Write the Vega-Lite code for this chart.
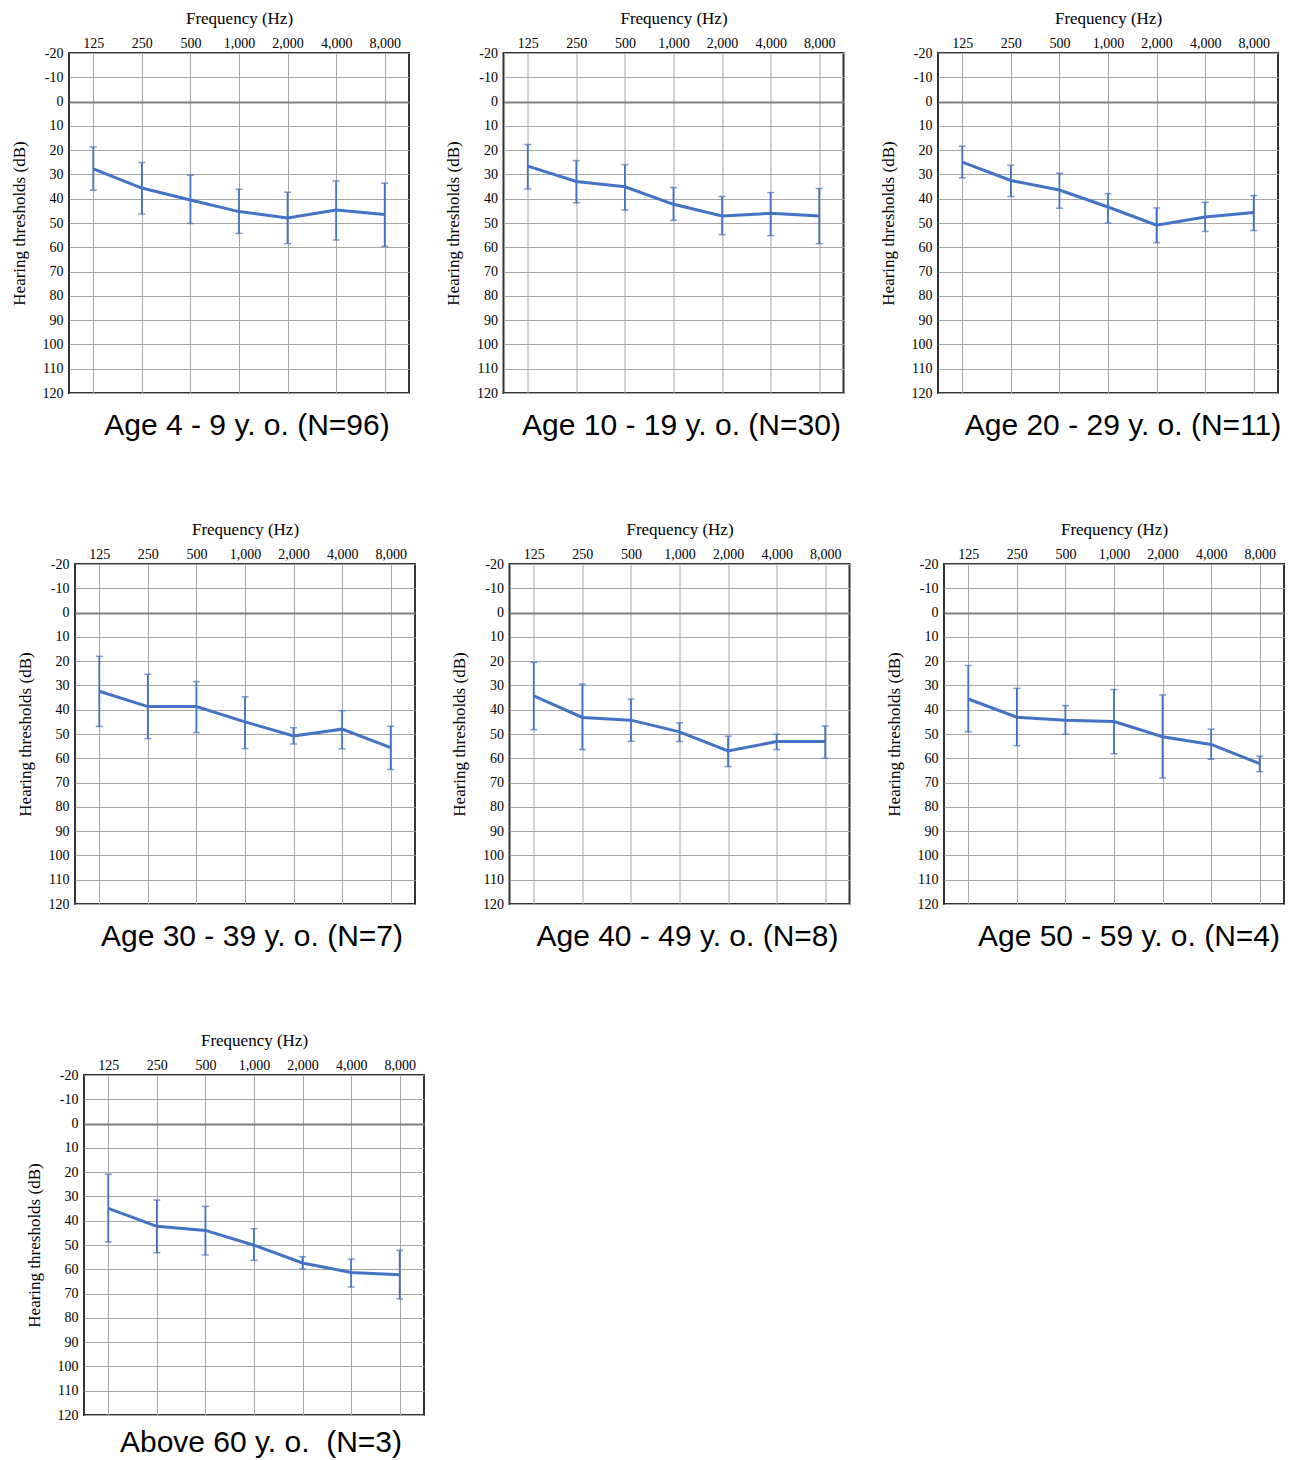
{
  "$schema": "https://vega.github.io/schema/vega-lite/v6.json",
  "background": "white",
  "padding": {"left": 8, "top": 8, "right": 0, "bottom": 0},
  "datasets": {
    "d": [
      {"g": 1, "f": "125", "m": 27.7, "lo": 18.7, "hi": 36.5},
      {"g": 1, "f": "250", "m": 35.6, "lo": 25.1, "hi": 46.3},
      {"g": 1, "f": "500", "m": 40.5, "lo": 30.3, "hi": 50.2},
      {"g": 1, "f": "1,000", "m": 45.3, "lo": 36.1, "hi": 54.3},
      {"g": 1, "f": "2,000", "m": 47.9, "lo": 37.3, "hi": 58.5},
      {"g": 1, "f": "4,000", "m": 44.7, "lo": 32.7, "hi": 57.0},
      {"g": 1, "f": "8,000", "m": 46.5, "lo": 33.6, "hi": 59.6},
      {"g": 2, "f": "125", "m": 26.6, "lo": 17.7, "hi": 36.0},
      {"g": 2, "f": "250", "m": 32.9, "lo": 24.3, "hi": 41.7},
      {"g": 2, "f": "500", "m": 35.1, "lo": 26.0, "hi": 44.7},
      {"g": 2, "f": "1,000", "m": 42.3, "lo": 35.4, "hi": 48.9},
      {"g": 2, "f": "2,000", "m": 47.1, "lo": 39.1, "hi": 54.8},
      {"g": 2, "f": "4,000", "m": 46.0, "lo": 37.5, "hi": 55.2},
      {"g": 2, "f": "8,000", "m": 47.1, "lo": 35.8, "hi": 58.5},
      {"g": 3, "f": "125", "m": 24.9, "lo": 18.4, "hi": 31.4},
      {"g": 3, "f": "250", "m": 32.5, "lo": 26.2, "hi": 39.1},
      {"g": 3, "f": "500", "m": 36.4, "lo": 29.5, "hi": 43.9},
      {"g": 3, "f": "1,000", "m": 43.4, "lo": 37.9, "hi": 50.0},
      {"g": 3, "f": "2,000", "m": 50.9, "lo": 43.8, "hi": 58.1},
      {"g": 3, "f": "4,000", "m": 47.5, "lo": 41.5, "hi": 53.5},
      {"g": 3, "f": "8,000", "m": 45.7, "lo": 38.7, "hi": 53.1},
      {"g": 4, "f": "125", "m": 32.4, "lo": 18.0, "hi": 46.9},
      {"g": 4, "f": "250", "m": 38.7, "lo": 25.4, "hi": 51.9},
      {"g": 4, "f": "500", "m": 38.7, "lo": 28.4, "hi": 49.4},
      {"g": 4, "f": "1,000", "m": 45.0, "lo": 34.7, "hi": 56.0},
      {"g": 4, "f": "2,000", "m": 50.8, "lo": 47.4, "hi": 54.1},
      {"g": 4, "f": "4,000", "m": 48.0, "lo": 40.4, "hi": 56.1},
      {"g": 4, "f": "8,000", "m": 55.6, "lo": 46.8, "hi": 64.6},
      {"g": 5, "f": "125", "m": 34.3, "lo": 20.5, "hi": 48.2},
      {"g": 5, "f": "250", "m": 43.2, "lo": 29.5, "hi": 56.4},
      {"g": 5, "f": "500", "m": 44.3, "lo": 35.6, "hi": 53.0},
      {"g": 5, "f": "1,000", "m": 49.1, "lo": 45.4, "hi": 53.1},
      {"g": 5, "f": "2,000", "m": 57.0, "lo": 50.9, "hi": 63.4},
      {"g": 5, "f": "4,000", "m": 53.1, "lo": 50.1, "hi": 56.4},
      {"g": 5, "f": "8,000", "m": 53.1, "lo": 46.7, "hi": 60.0},
      {"g": 6, "f": "125", "m": 35.6, "lo": 21.8, "hi": 49.1},
      {"g": 6, "f": "250", "m": 43.1, "lo": 31.2, "hi": 54.8},
      {"g": 6, "f": "500", "m": 44.3, "lo": 38.3, "hi": 50.1},
      {"g": 6, "f": "1,000", "m": 44.9, "lo": 31.7, "hi": 58.1},
      {"g": 6, "f": "2,000", "m": 51.1, "lo": 33.9, "hi": 68.1},
      {"g": 6, "f": "4,000", "m": 54.3, "lo": 48.0, "hi": 60.4},
      {"g": 6, "f": "8,000", "m": 62.2, "lo": 59.1, "hi": 65.5},
      {"g": 7, "f": "125", "m": 34.9, "lo": 20.9, "hi": 48.8},
      {"g": 7, "f": "250", "m": 42.3, "lo": 31.5, "hi": 53.2},
      {"g": 7, "f": "500", "m": 44.0, "lo": 34.1, "hi": 54.1},
      {"g": 7, "f": "1,000", "m": 50.1, "lo": 43.3, "hi": 56.3},
      {"g": 7, "f": "2,000", "m": 57.4, "lo": 54.8, "hi": 59.9},
      {"g": 7, "f": "4,000", "m": 61.3, "lo": 55.8, "hi": 67.3},
      {"g": 7, "f": "8,000", "m": 62.3, "lo": 52.2, "hi": 72.2}
    ]
  },
  "vconcat": [
    {
      "hconcat": [
        {"width": 1, "height": 1, "data": {"values": []}, "mark": {"type": "point", "opacity": 0}, "encoding": {}, "view": {"stroke": null}},
        {
          "hconcat": [
            {
              "width": 340, "height": 340,
              "data": {"name": "d"},
              "transform": [{"filter": "datum.g == 1"}],
              "title": {"text": "Age 4 - 9 y. o. (N=96)", "dx": 8},
              "encoding": {"x": {"field": "f", "type": "ordinal", "sort": ["125","250","500","1,000","2,000","4,000","8,000"], "scale": {"type": "point", "padding": 0.5}, "axis": {"orient": "top", "title": "Frequency (Hz)", "labelAngle": 0, "labelPadding": 3, "titlePadding": 9}}},
              "layer": [
                {"mark": {"type": "rule", "color": "#4472C4", "strokeWidth": 1.8}, "encoding": {"y": {"field": "lo", "type": "quantitative", "scale": {"domain": [-20, 120], "reverse": true, "nice": false, "zero": false}, "axis": {"title": "Hearing thresholds (dB)", "values": [-20,-10,0,10,20,30,40,50,60,70,80,90,100,110,120], "tickCount": 30, "labelOverlap": false, "labelExpr": "'' + datum.value", "labelPadding": 6, "titlePadding": 14, "gridColor": {"condition": {"test": "datum.value === 0", "value": "#7f7f7f"}, "value": "#a6a6a6"}, "gridWidth": {"condition": {"test": "datum.value === 0", "value": 2}, "value": 1}}}, "y2": {"field": "hi"}}},
                {"mark": {"type": "tick", "color": "#4472C4", "size": 7, "thickness": 1.5, "orient": "horizontal"}, "encoding": {"y": {"field": "lo", "type": "quantitative", "scale": {"domain": [-20, 120], "reverse": true, "nice": false, "zero": false}, "axis": {"title": "Hearing thresholds (dB)", "values": [-20,-10,0,10,20,30,40,50,60,70,80,90,100,110,120], "tickCount": 30, "labelOverlap": false, "labelExpr": "'' + datum.value", "labelPadding": 6, "titlePadding": 14, "gridColor": {"condition": {"test": "datum.value === 0", "value": "#7f7f7f"}, "value": "#a6a6a6"}, "gridWidth": {"condition": {"test": "datum.value === 0", "value": 2}, "value": 1}}}}},
                {"mark": {"type": "tick", "color": "#4472C4", "size": 7, "thickness": 1.5, "orient": "horizontal"}, "encoding": {"y": {"field": "hi", "type": "quantitative", "scale": {"domain": [-20, 120], "reverse": true, "nice": false, "zero": false}, "axis": {"title": "Hearing thresholds (dB)", "values": [-20,-10,0,10,20,30,40,50,60,70,80,90,100,110,120], "tickCount": 30, "labelOverlap": false, "labelExpr": "'' + datum.value", "labelPadding": 6, "titlePadding": 14, "gridColor": {"condition": {"test": "datum.value === 0", "value": "#7f7f7f"}, "value": "#a6a6a6"}, "gridWidth": {"condition": {"test": "datum.value === 0", "value": 2}, "value": 1}}}}},
                {"mark": {"type": "line", "color": "#4472C4", "strokeWidth": 3}, "encoding": {"y": {"field": "m", "type": "quantitative", "scale": {"domain": [-20, 120], "reverse": true, "nice": false, "zero": false}, "axis": {"title": "Hearing thresholds (dB)", "values": [-20,-10,0,10,20,30,40,50,60,70,80,90,100,110,120], "tickCount": 30, "labelOverlap": false, "labelExpr": "'' + datum.value", "labelPadding": 6, "titlePadding": 14, "gridColor": {"condition": {"test": "datum.value === 0", "value": "#7f7f7f"}, "value": "#a6a6a6"}, "gridWidth": {"condition": {"test": "datum.value === 0", "value": 2}, "value": 1}}}}}
              ]
            },
            {
              "width": 340, "height": 340,
              "data": {"name": "d"},
              "transform": [{"filter": "datum.g == 2"}],
              "title": {"text": "Age 10 - 19 y. o. (N=30)", "dx": 8},
              "encoding": {"x": {"field": "f", "type": "ordinal", "sort": ["125","250","500","1,000","2,000","4,000","8,000"], "scale": {"type": "point", "padding": 0.5}, "axis": {"orient": "top", "title": "Frequency (Hz)", "labelAngle": 0, "labelPadding": 3, "titlePadding": 9}}},
              "layer": [
                {"mark": {"type": "rule", "color": "#4472C4", "strokeWidth": 1.8}, "encoding": {"y": {"field": "lo", "type": "quantitative", "scale": {"domain": [-20, 120], "reverse": true, "nice": false, "zero": false}, "axis": {"title": "Hearing thresholds (dB)", "values": [-20,-10,0,10,20,30,40,50,60,70,80,90,100,110,120], "tickCount": 30, "labelOverlap": false, "labelExpr": "'' + datum.value", "labelPadding": 6, "titlePadding": 14, "gridColor": {"condition": {"test": "datum.value === 0", "value": "#7f7f7f"}, "value": "#a6a6a6"}, "gridWidth": {"condition": {"test": "datum.value === 0", "value": 2}, "value": 1}}}, "y2": {"field": "hi"}}},
                {"mark": {"type": "tick", "color": "#4472C4", "size": 7, "thickness": 1.5, "orient": "horizontal"}, "encoding": {"y": {"field": "lo", "type": "quantitative", "scale": {"domain": [-20, 120], "reverse": true, "nice": false, "zero": false}, "axis": {"title": "Hearing thresholds (dB)", "values": [-20,-10,0,10,20,30,40,50,60,70,80,90,100,110,120], "tickCount": 30, "labelOverlap": false, "labelExpr": "'' + datum.value", "labelPadding": 6, "titlePadding": 14, "gridColor": {"condition": {"test": "datum.value === 0", "value": "#7f7f7f"}, "value": "#a6a6a6"}, "gridWidth": {"condition": {"test": "datum.value === 0", "value": 2}, "value": 1}}}}},
                {"mark": {"type": "tick", "color": "#4472C4", "size": 7, "thickness": 1.5, "orient": "horizontal"}, "encoding": {"y": {"field": "hi", "type": "quantitative", "scale": {"domain": [-20, 120], "reverse": true, "nice": false, "zero": false}, "axis": {"title": "Hearing thresholds (dB)", "values": [-20,-10,0,10,20,30,40,50,60,70,80,90,100,110,120], "tickCount": 30, "labelOverlap": false, "labelExpr": "'' + datum.value", "labelPadding": 6, "titlePadding": 14, "gridColor": {"condition": {"test": "datum.value === 0", "value": "#7f7f7f"}, "value": "#a6a6a6"}, "gridWidth": {"condition": {"test": "datum.value === 0", "value": 2}, "value": 1}}}}},
                {"mark": {"type": "line", "color": "#4472C4", "strokeWidth": 3}, "encoding": {"y": {"field": "m", "type": "quantitative", "scale": {"domain": [-20, 120], "reverse": true, "nice": false, "zero": false}, "axis": {"title": "Hearing thresholds (dB)", "values": [-20,-10,0,10,20,30,40,50,60,70,80,90,100,110,120], "tickCount": 30, "labelOverlap": false, "labelExpr": "'' + datum.value", "labelPadding": 6, "titlePadding": 14, "gridColor": {"condition": {"test": "datum.value === 0", "value": "#7f7f7f"}, "value": "#a6a6a6"}, "gridWidth": {"condition": {"test": "datum.value === 0", "value": 2}, "value": 1}}}}}
              ]
            },
            {
              "width": 340, "height": 340,
              "data": {"name": "d"},
              "transform": [{"filter": "datum.g == 3"}],
              "title": {"text": "Age 20 - 29 y. o. (N=11)", "dx": 15},
              "encoding": {"x": {"field": "f", "type": "ordinal", "sort": ["125","250","500","1,000","2,000","4,000","8,000"], "scale": {"type": "point", "padding": 0.5}, "axis": {"orient": "top", "title": "Frequency (Hz)", "labelAngle": 0, "labelPadding": 3, "titlePadding": 9}}},
              "layer": [
                {"mark": {"type": "rule", "color": "#4472C4", "strokeWidth": 1.8}, "encoding": {"y": {"field": "lo", "type": "quantitative", "scale": {"domain": [-20, 120], "reverse": true, "nice": false, "zero": false}, "axis": {"title": "Hearing thresholds (dB)", "values": [-20,-10,0,10,20,30,40,50,60,70,80,90,100,110,120], "tickCount": 30, "labelOverlap": false, "labelExpr": "'' + datum.value", "labelPadding": 6, "titlePadding": 14, "gridColor": {"condition": {"test": "datum.value === 0", "value": "#7f7f7f"}, "value": "#a6a6a6"}, "gridWidth": {"condition": {"test": "datum.value === 0", "value": 2}, "value": 1}}}, "y2": {"field": "hi"}}},
                {"mark": {"type": "tick", "color": "#4472C4", "size": 7, "thickness": 1.5, "orient": "horizontal"}, "encoding": {"y": {"field": "lo", "type": "quantitative", "scale": {"domain": [-20, 120], "reverse": true, "nice": false, "zero": false}, "axis": {"title": "Hearing thresholds (dB)", "values": [-20,-10,0,10,20,30,40,50,60,70,80,90,100,110,120], "tickCount": 30, "labelOverlap": false, "labelExpr": "'' + datum.value", "labelPadding": 6, "titlePadding": 14, "gridColor": {"condition": {"test": "datum.value === 0", "value": "#7f7f7f"}, "value": "#a6a6a6"}, "gridWidth": {"condition": {"test": "datum.value === 0", "value": 2}, "value": 1}}}}},
                {"mark": {"type": "tick", "color": "#4472C4", "size": 7, "thickness": 1.5, "orient": "horizontal"}, "encoding": {"y": {"field": "hi", "type": "quantitative", "scale": {"domain": [-20, 120], "reverse": true, "nice": false, "zero": false}, "axis": {"title": "Hearing thresholds (dB)", "values": [-20,-10,0,10,20,30,40,50,60,70,80,90,100,110,120], "tickCount": 30, "labelOverlap": false, "labelExpr": "'' + datum.value", "labelPadding": 6, "titlePadding": 14, "gridColor": {"condition": {"test": "datum.value === 0", "value": "#7f7f7f"}, "value": "#a6a6a6"}, "gridWidth": {"condition": {"test": "datum.value === 0", "value": 2}, "value": 1}}}}},
                {"mark": {"type": "line", "color": "#4472C4", "strokeWidth": 3}, "encoding": {"y": {"field": "m", "type": "quantitative", "scale": {"domain": [-20, 120], "reverse": true, "nice": false, "zero": false}, "axis": {"title": "Hearing thresholds (dB)", "values": [-20,-10,0,10,20,30,40,50,60,70,80,90,100,110,120], "tickCount": 30, "labelOverlap": false, "labelExpr": "'' + datum.value", "labelPadding": 6, "titlePadding": 14, "gridColor": {"condition": {"test": "datum.value === 0", "value": "#7f7f7f"}, "value": "#a6a6a6"}, "gridWidth": {"condition": {"test": "datum.value === 0", "value": 2}, "value": 1}}}}}
              ]
            }
          ],
          "spacing": 33.5
        }
      ],
      "spacing": 0
    },
    {
      "hconcat": [
        {"width": 6.7, "height": 1, "data": {"values": []}, "mark": {"type": "point", "opacity": 0}, "encoding": {}, "view": {"stroke": null}},
        {
          "hconcat": [
            {
              "width": 340, "height": 340,
              "data": {"name": "d"},
              "transform": [{"filter": "datum.g == 4"}],
              "title": {"text": "Age 30 - 39 y. o. (N=7)", "dx": 7},
              "encoding": {"x": {"field": "f", "type": "ordinal", "sort": ["125","250","500","1,000","2,000","4,000","8,000"], "scale": {"type": "point", "padding": 0.5}, "axis": {"orient": "top", "title": "Frequency (Hz)", "labelAngle": 0, "labelPadding": 3, "titlePadding": 9}}},
              "layer": [
                {"mark": {"type": "rule", "color": "#4472C4", "strokeWidth": 1.8}, "encoding": {"y": {"field": "lo", "type": "quantitative", "scale": {"domain": [-20, 120], "reverse": true, "nice": false, "zero": false}, "axis": {"title": "Hearing thresholds (dB)", "values": [-20,-10,0,10,20,30,40,50,60,70,80,90,100,110,120], "tickCount": 30, "labelOverlap": false, "labelExpr": "'' + datum.value", "labelPadding": 6, "titlePadding": 14, "gridColor": {"condition": {"test": "datum.value === 0", "value": "#7f7f7f"}, "value": "#a6a6a6"}, "gridWidth": {"condition": {"test": "datum.value === 0", "value": 2}, "value": 1}}}, "y2": {"field": "hi"}}},
                {"mark": {"type": "tick", "color": "#4472C4", "size": 7, "thickness": 1.5, "orient": "horizontal"}, "encoding": {"y": {"field": "lo", "type": "quantitative", "scale": {"domain": [-20, 120], "reverse": true, "nice": false, "zero": false}, "axis": {"title": "Hearing thresholds (dB)", "values": [-20,-10,0,10,20,30,40,50,60,70,80,90,100,110,120], "tickCount": 30, "labelOverlap": false, "labelExpr": "'' + datum.value", "labelPadding": 6, "titlePadding": 14, "gridColor": {"condition": {"test": "datum.value === 0", "value": "#7f7f7f"}, "value": "#a6a6a6"}, "gridWidth": {"condition": {"test": "datum.value === 0", "value": 2}, "value": 1}}}}},
                {"mark": {"type": "tick", "color": "#4472C4", "size": 7, "thickness": 1.5, "orient": "horizontal"}, "encoding": {"y": {"field": "hi", "type": "quantitative", "scale": {"domain": [-20, 120], "reverse": true, "nice": false, "zero": false}, "axis": {"title": "Hearing thresholds (dB)", "values": [-20,-10,0,10,20,30,40,50,60,70,80,90,100,110,120], "tickCount": 30, "labelOverlap": false, "labelExpr": "'' + datum.value", "labelPadding": 6, "titlePadding": 14, "gridColor": {"condition": {"test": "datum.value === 0", "value": "#7f7f7f"}, "value": "#a6a6a6"}, "gridWidth": {"condition": {"test": "datum.value === 0", "value": 2}, "value": 1}}}}},
                {"mark": {"type": "line", "color": "#4472C4", "strokeWidth": 3}, "encoding": {"y": {"field": "m", "type": "quantitative", "scale": {"domain": [-20, 120], "reverse": true, "nice": false, "zero": false}, "axis": {"title": "Hearing thresholds (dB)", "values": [-20,-10,0,10,20,30,40,50,60,70,80,90,100,110,120], "tickCount": 30, "labelOverlap": false, "labelExpr": "'' + datum.value", "labelPadding": 6, "titlePadding": 14, "gridColor": {"condition": {"test": "datum.value === 0", "value": "#7f7f7f"}, "value": "#a6a6a6"}, "gridWidth": {"condition": {"test": "datum.value === 0", "value": 2}, "value": 1}}}}}
              ]
            },
            {
              "width": 340, "height": 340,
              "data": {"name": "d"},
              "transform": [{"filter": "datum.g == 5"}],
              "title": {"text": "Age 40 - 49 y. o. (N=8)", "dx": 8},
              "encoding": {"x": {"field": "f", "type": "ordinal", "sort": ["125","250","500","1,000","2,000","4,000","8,000"], "scale": {"type": "point", "padding": 0.5}, "axis": {"orient": "top", "title": "Frequency (Hz)", "labelAngle": 0, "labelPadding": 3, "titlePadding": 9}}},
              "layer": [
                {"mark": {"type": "rule", "color": "#4472C4", "strokeWidth": 1.8}, "encoding": {"y": {"field": "lo", "type": "quantitative", "scale": {"domain": [-20, 120], "reverse": true, "nice": false, "zero": false}, "axis": {"title": "Hearing thresholds (dB)", "values": [-20,-10,0,10,20,30,40,50,60,70,80,90,100,110,120], "tickCount": 30, "labelOverlap": false, "labelExpr": "'' + datum.value", "labelPadding": 6, "titlePadding": 14, "gridColor": {"condition": {"test": "datum.value === 0", "value": "#7f7f7f"}, "value": "#a6a6a6"}, "gridWidth": {"condition": {"test": "datum.value === 0", "value": 2}, "value": 1}}}, "y2": {"field": "hi"}}},
                {"mark": {"type": "tick", "color": "#4472C4", "size": 7, "thickness": 1.5, "orient": "horizontal"}, "encoding": {"y": {"field": "lo", "type": "quantitative", "scale": {"domain": [-20, 120], "reverse": true, "nice": false, "zero": false}, "axis": {"title": "Hearing thresholds (dB)", "values": [-20,-10,0,10,20,30,40,50,60,70,80,90,100,110,120], "tickCount": 30, "labelOverlap": false, "labelExpr": "'' + datum.value", "labelPadding": 6, "titlePadding": 14, "gridColor": {"condition": {"test": "datum.value === 0", "value": "#7f7f7f"}, "value": "#a6a6a6"}, "gridWidth": {"condition": {"test": "datum.value === 0", "value": 2}, "value": 1}}}}},
                {"mark": {"type": "tick", "color": "#4472C4", "size": 7, "thickness": 1.5, "orient": "horizontal"}, "encoding": {"y": {"field": "hi", "type": "quantitative", "scale": {"domain": [-20, 120], "reverse": true, "nice": false, "zero": false}, "axis": {"title": "Hearing thresholds (dB)", "values": [-20,-10,0,10,20,30,40,50,60,70,80,90,100,110,120], "tickCount": 30, "labelOverlap": false, "labelExpr": "'' + datum.value", "labelPadding": 6, "titlePadding": 14, "gridColor": {"condition": {"test": "datum.value === 0", "value": "#7f7f7f"}, "value": "#a6a6a6"}, "gridWidth": {"condition": {"test": "datum.value === 0", "value": 2}, "value": 1}}}}},
                {"mark": {"type": "line", "color": "#4472C4", "strokeWidth": 3}, "encoding": {"y": {"field": "m", "type": "quantitative", "scale": {"domain": [-20, 120], "reverse": true, "nice": false, "zero": false}, "axis": {"title": "Hearing thresholds (dB)", "values": [-20,-10,0,10,20,30,40,50,60,70,80,90,100,110,120], "tickCount": 30, "labelOverlap": false, "labelExpr": "'' + datum.value", "labelPadding": 6, "titlePadding": 14, "gridColor": {"condition": {"test": "datum.value === 0", "value": "#7f7f7f"}, "value": "#a6a6a6"}, "gridWidth": {"condition": {"test": "datum.value === 0", "value": 2}, "value": 1}}}}}
              ]
            },
            {
              "width": 340, "height": 340,
              "data": {"name": "d"},
              "transform": [{"filter": "datum.g == 6"}],
              "title": {"text": "Age 50 - 59 y. o. (N=4)", "dx": 15},
              "encoding": {"x": {"field": "f", "type": "ordinal", "sort": ["125","250","500","1,000","2,000","4,000","8,000"], "scale": {"type": "point", "padding": 0.5}, "axis": {"orient": "top", "title": "Frequency (Hz)", "labelAngle": 0, "labelPadding": 3, "titlePadding": 9}}},
              "layer": [
                {"mark": {"type": "rule", "color": "#4472C4", "strokeWidth": 1.8}, "encoding": {"y": {"field": "lo", "type": "quantitative", "scale": {"domain": [-20, 120], "reverse": true, "nice": false, "zero": false}, "axis": {"title": "Hearing thresholds (dB)", "values": [-20,-10,0,10,20,30,40,50,60,70,80,90,100,110,120], "tickCount": 30, "labelOverlap": false, "labelExpr": "'' + datum.value", "labelPadding": 6, "titlePadding": 14, "gridColor": {"condition": {"test": "datum.value === 0", "value": "#7f7f7f"}, "value": "#a6a6a6"}, "gridWidth": {"condition": {"test": "datum.value === 0", "value": 2}, "value": 1}}}, "y2": {"field": "hi"}}},
                {"mark": {"type": "tick", "color": "#4472C4", "size": 7, "thickness": 1.5, "orient": "horizontal"}, "encoding": {"y": {"field": "lo", "type": "quantitative", "scale": {"domain": [-20, 120], "reverse": true, "nice": false, "zero": false}, "axis": {"title": "Hearing thresholds (dB)", "values": [-20,-10,0,10,20,30,40,50,60,70,80,90,100,110,120], "tickCount": 30, "labelOverlap": false, "labelExpr": "'' + datum.value", "labelPadding": 6, "titlePadding": 14, "gridColor": {"condition": {"test": "datum.value === 0", "value": "#7f7f7f"}, "value": "#a6a6a6"}, "gridWidth": {"condition": {"test": "datum.value === 0", "value": 2}, "value": 1}}}}},
                {"mark": {"type": "tick", "color": "#4472C4", "size": 7, "thickness": 1.5, "orient": "horizontal"}, "encoding": {"y": {"field": "hi", "type": "quantitative", "scale": {"domain": [-20, 120], "reverse": true, "nice": false, "zero": false}, "axis": {"title": "Hearing thresholds (dB)", "values": [-20,-10,0,10,20,30,40,50,60,70,80,90,100,110,120], "tickCount": 30, "labelOverlap": false, "labelExpr": "'' + datum.value", "labelPadding": 6, "titlePadding": 14, "gridColor": {"condition": {"test": "datum.value === 0", "value": "#7f7f7f"}, "value": "#a6a6a6"}, "gridWidth": {"condition": {"test": "datum.value === 0", "value": 2}, "value": 1}}}}},
                {"mark": {"type": "line", "color": "#4472C4", "strokeWidth": 3}, "encoding": {"y": {"field": "m", "type": "quantitative", "scale": {"domain": [-20, 120], "reverse": true, "nice": false, "zero": false}, "axis": {"title": "Hearing thresholds (dB)", "values": [-20,-10,0,10,20,30,40,50,60,70,80,90,100,110,120], "tickCount": 30, "labelOverlap": false, "labelExpr": "'' + datum.value", "labelPadding": 6, "titlePadding": 14, "gridColor": {"condition": {"test": "datum.value === 0", "value": "#7f7f7f"}, "value": "#a6a6a6"}, "gridWidth": {"condition": {"test": "datum.value === 0", "value": 2}, "value": 1}}}}}
              ]
            }
          ],
          "spacing": 33.5
        }
      ],
      "spacing": 0
    },
    {
      "hconcat": [
        {"width": 16, "height": 1, "data": {"values": []}, "mark": {"type": "point", "opacity": 0}, "encoding": {}, "view": {"stroke": null}},
        {
          "width": 340, "height": 340,
          "data": {"name": "d"},
          "transform": [{"filter": "datum.g == 7"}],
          "title": {"text": "Above 60 y. o. \u00a0(N=3)", "dx": 7, "offset": 6},
          "encoding": {"x": {"field": "f", "type": "ordinal", "sort": ["125","250","500","1,000","2,000","4,000","8,000"], "scale": {"type": "point", "padding": 0.5}, "axis": {"orient": "top", "title": "Frequency (Hz)", "labelAngle": 0, "labelPadding": 3, "titlePadding": 9}}},
          "layer": [
            {"mark": {"type": "rule", "color": "#4472C4", "strokeWidth": 1.8}, "encoding": {"y": {"field": "lo", "type": "quantitative", "scale": {"domain": [-20, 120], "reverse": true, "nice": false, "zero": false}, "axis": {"title": "Hearing thresholds (dB)", "values": [-20,-10,0,10,20,30,40,50,60,70,80,90,100,110,120], "tickCount": 30, "labelOverlap": false, "labelExpr": "'' + datum.value", "labelPadding": 6, "titlePadding": 14, "gridColor": {"condition": {"test": "datum.value === 0", "value": "#7f7f7f"}, "value": "#a6a6a6"}, "gridWidth": {"condition": {"test": "datum.value === 0", "value": 2}, "value": 1}}}, "y2": {"field": "hi"}}},
            {"mark": {"type": "tick", "color": "#4472C4", "size": 7, "thickness": 1.5, "orient": "horizontal"}, "encoding": {"y": {"field": "lo", "type": "quantitative", "scale": {"domain": [-20, 120], "reverse": true, "nice": false, "zero": false}, "axis": {"title": "Hearing thresholds (dB)", "values": [-20,-10,0,10,20,30,40,50,60,70,80,90,100,110,120], "tickCount": 30, "labelOverlap": false, "labelExpr": "'' + datum.value", "labelPadding": 6, "titlePadding": 14, "gridColor": {"condition": {"test": "datum.value === 0", "value": "#7f7f7f"}, "value": "#a6a6a6"}, "gridWidth": {"condition": {"test": "datum.value === 0", "value": 2}, "value": 1}}}}},
            {"mark": {"type": "tick", "color": "#4472C4", "size": 7, "thickness": 1.5, "orient": "horizontal"}, "encoding": {"y": {"field": "hi", "type": "quantitative", "scale": {"domain": [-20, 120], "reverse": true, "nice": false, "zero": false}, "axis": {"title": "Hearing thresholds (dB)", "values": [-20,-10,0,10,20,30,40,50,60,70,80,90,100,110,120], "tickCount": 30, "labelOverlap": false, "labelExpr": "'' + datum.value", "labelPadding": 6, "titlePadding": 14, "gridColor": {"condition": {"test": "datum.value === 0", "value": "#7f7f7f"}, "value": "#a6a6a6"}, "gridWidth": {"condition": {"test": "datum.value === 0", "value": 2}, "value": 1}}}}},
            {"mark": {"type": "line", "color": "#4472C4", "strokeWidth": 3}, "encoding": {"y": {"field": "m", "type": "quantitative", "scale": {"domain": [-20, 120], "reverse": true, "nice": false, "zero": false}, "axis": {"title": "Hearing thresholds (dB)", "values": [-20,-10,0,10,20,30,40,50,60,70,80,90,100,110,120], "tickCount": 30, "labelOverlap": false, "labelExpr": "'' + datum.value", "labelPadding": 6, "titlePadding": 14, "gridColor": {"condition": {"test": "datum.value === 0", "value": "#7f7f7f"}, "value": "#a6a6a6"}, "gridWidth": {"condition": {"test": "datum.value === 0", "value": 2}, "value": 1}}}}}
          ]
        }
      ],
      "spacing": 0
    }
  ],
  "spacing": 77,
  "config": {
    "view": {"stroke": "#333333", "strokeWidth": 2},
    "axis": {
      "labelFont": "Liberation Serif", "labelFontSize": 14, "labelColor": "#000000",
      "titleFont": "Liberation Serif", "titleFontSize": 17, "titleFontWeight": "normal", "titleColor": "#000000",
      "ticks": false, "domain": false, "grid": true, "gridColor": "#a6a6a6", "gridOpacity": 1
    },
    "title": {"font": "Liberation Sans", "fontSize": 30, "fontWeight": "normal", "color": "#000000", "orient": "bottom", "anchor": "middle", "offset": 11}
  }
}
